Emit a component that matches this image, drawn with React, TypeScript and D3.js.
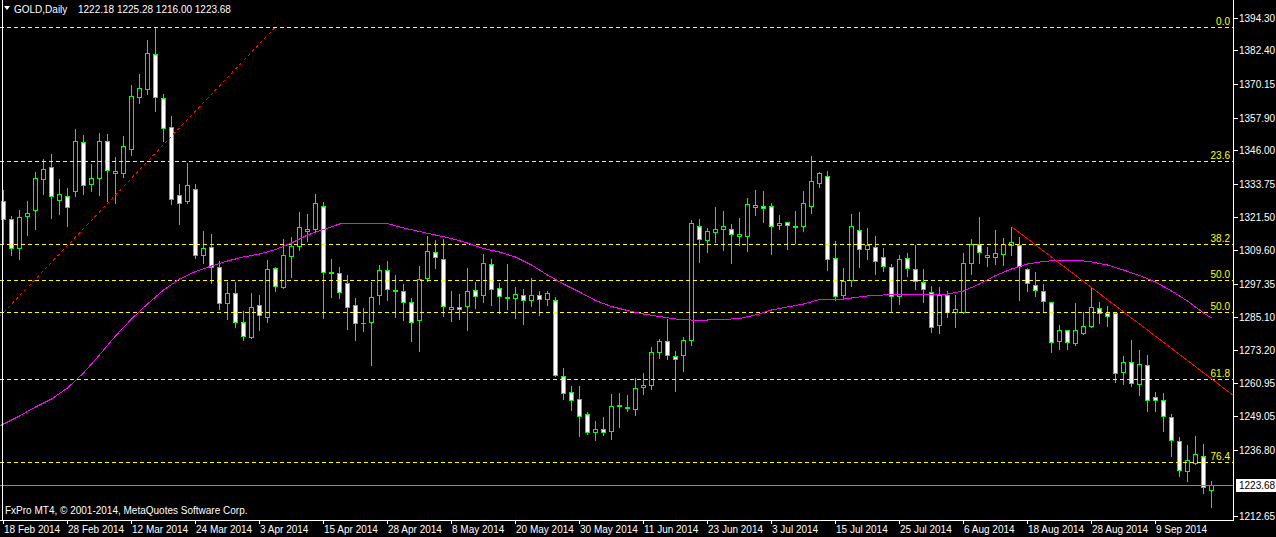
import { useEffect, useRef } from 'react';
import * as d3 from 'd3';

const W = 1276;
const H = 537;
const plotRight = 1233;
const plotBottom = 520;

// daily OHLC, 18 Feb 2014 .. 18 Sep 2014
const candles: [number, number, number, number][] = [
  [1327.46, 1331.47, 1312.03, 1320.78], [1320.78, 1321.98, 1307.75, 1310.2], [1310.2, 1324.17, 1306.4, 1321.51],
  [1321.88, 1327.46, 1315.05, 1322.97], [1324.06, 1338.15, 1317.35, 1335.74], [1335.38, 1342.79, 1330.12, 1339.03],
  [1339.76, 1344.61, 1321.36, 1329.17], [1327.93, 1335.38, 1322.82, 1329.9], [1329.17, 1332.09, 1318.45, 1325.16],
  [1330.99, 1353.73, 1329.29, 1349.24], [1348.88, 1351.54, 1330.12, 1333.19], [1333.55, 1340.95, 1331.21, 1335.74],
  [1335.74, 1352.27, 1329.76, 1349.24], [1349.24, 1351.9, 1327.46, 1338.95], [1337.78, 1343.51, 1326.91, 1338.29],
  [1337.78, 1351.17, 1336.32, 1347.42], [1346.54, 1369.78, 1344.35, 1365.66], [1365.51, 1373.79, 1363.32, 1368.58],
  [1368.43, 1386.2, 1366.61, 1381.35], [1380.98, 1390.83, 1360.4, 1365.51], [1364.93, 1366.5, 1349.46, 1354.2],
  [1354.35, 1358.47, 1326.47, 1328.3], [1329.54, 1333.66, 1319.18, 1326.62], [1327.57, 1341.21, 1326.84, 1333.19],
  [1331.73, 1333.66, 1306.77, 1307.65], [1307.65, 1316.52, 1304.73, 1310.2], [1310.57, 1315.42, 1297.65, 1303.49],
  [1303.27, 1305.68, 1288.17, 1290.36], [1290.14, 1297.8, 1284.52, 1293.78], [1293.78, 1297.8, 1281.6, 1283.2],
  [1283.2, 1287.22, 1276.75, 1278.1], [1277.73, 1293.78, 1277.47, 1288.67], [1289.4, 1293.05, 1280.5, 1285.75],
  [1285.25, 1305.93, 1283.42, 1302.54], [1302.9, 1303.27, 1294.62, 1296.34], [1295.97, 1313.49, 1295.72, 1307.65],
  [1307.28, 1314.22, 1299.62, 1311.04], [1310.93, 1323.45, 1309.58, 1317.86], [1316.4, 1322.72, 1312.98, 1317.13],
  [1317.35, 1329.97, 1316.4, 1326.62], [1325.52, 1326.98, 1284.88, 1301.45], [1301.26, 1306.3, 1292.55, 1301.63],
  [1301.08, 1303.27, 1292.18, 1294.15], [1297.43, 1300.35, 1280.87, 1288.67], [1289.41, 1291.96, 1276.86, 1282.84],
  [1282.84, 1288.42, 1280.14, 1283.06], [1283.2, 1297.8, 1267.74, 1292.32], [1293.05, 1304.0, 1289.77, 1302.18],
  [1302.18, 1305.46, 1291.23, 1295.46], [1294.55, 1300.35, 1285.25, 1294.92], [1294.51, 1297.07, 1284.16, 1290.5],
  [1290.5, 1291.96, 1276.49, 1283.2], [1283.93, 1303.63, 1272.84, 1298.89], [1299.26, 1314.69, 1298.16, 1309.11],
  [1308.74, 1313.23, 1303.12, 1306.92], [1306.19, 1313.6, 1285.61, 1289.04], [1288.17, 1294.62, 1283.79, 1288.67],
  [1288.67, 1293.53, 1284.52, 1287.95], [1289.04, 1303.01, 1280.4, 1294.51], [1294.88, 1297.91, 1288.31, 1292.69],
  [1293.05, 1308.12, 1290.72, 1304.73], [1304.37, 1306.19, 1289.63, 1295.24], [1295.61, 1297.43, 1286.71, 1292.69],
  [1291.96, 1304.47, 1287.95, 1292.32], [1291.96, 1296.08, 1284.88, 1293.42], [1293.09, 1295.24, 1282.59, 1291.27],
  [1291.23, 1299.37, 1289.26, 1293.17], [1293.17, 1294.62, 1285.98, 1291.6], [1291.6, 1294.62, 1289.63, 1293.9],
  [1291.23, 1292.32, 1263.5, 1263.87], [1263.5, 1266.43, 1255.33, 1257.3], [1257.66, 1259.96, 1251.1, 1254.75],
  [1255.11, 1259.96, 1241.62, 1248.99], [1249.64, 1250.37, 1242.34, 1243.07], [1243.07, 1247.09, 1240.15, 1244.17],
  [1244.17, 1248.54, 1241.98, 1243.07], [1243.44, 1256.94, 1240.52, 1252.56], [1252.56, 1257.3, 1244.9, 1252.93],
  [1252.19, 1256.57, 1250.74, 1251.76], [1251.46, 1262.77, 1249.49, 1259.12], [1259.49, 1264.6, 1257.16, 1260.22],
  [1260.22, 1274.09, 1258.98, 1272.26], [1272.26, 1277.0, 1270.07, 1276.27], [1276.27, 1284.3, 1269.93, 1271.16],
  [1270.8, 1272.63, 1258.25, 1269.71], [1271.16, 1277.73, 1265.55, 1276.64], [1276.64, 1320.53, 1275.03, 1319.32],
  [1318.23, 1320.78, 1305.31, 1313.7], [1313.34, 1317.61, 1308.96, 1316.4], [1316.26, 1325.27, 1312.61, 1317.13],
  [1317.13, 1323.81, 1309.69, 1318.23], [1317.13, 1319.07, 1304.95, 1315.24], [1314.8, 1321.26, 1311.41, 1315.42],
  [1314.8, 1328.55, 1309.33, 1326.26], [1325.38, 1331.47, 1322.46, 1325.89], [1325.52, 1331.11, 1319.8, 1325.02],
  [1325.52, 1326.73, 1308.23, 1318.23], [1318.59, 1322.35, 1317.35, 1319.32], [1319.69, 1319.9, 1310.06, 1318.59],
  [1317.97, 1323.81, 1312.25, 1318.34], [1318.45, 1331.11, 1316.62, 1326.62], [1325.52, 1343.88, 1323.19, 1334.65],
  [1333.92, 1338.04, 1332.68, 1337.57], [1336.47, 1338.3, 1302.4, 1306.19], [1306.55, 1312.76, 1291.52, 1292.98],
  [1293.17, 1302.9, 1291.6, 1298.16], [1298.53, 1322.72, 1296.56, 1318.23], [1316.77, 1323.34, 1303.49, 1309.84],
  [1309.84, 1317.5, 1306.41, 1311.3], [1310.57, 1314.69, 1300.94, 1305.46], [1306.92, 1310.2, 1302.03, 1303.63],
  [1303.27, 1304.37, 1287.07, 1292.8], [1292.69, 1307.65, 1289.99, 1306.19], [1306.55, 1308.38, 1299.99, 1302.9],
  [1302.54, 1311.41, 1295.24, 1298.16], [1297.8, 1302.54, 1290.72, 1295.24], [1294.15, 1296.34, 1279.78, 1281.67],
  [1282.04, 1295.97, 1279.3, 1293.17], [1293.27, 1294.51, 1285.25, 1287.07], [1287.07, 1293.05, 1281.6, 1287.95],
  [1286.85, 1308.49, 1286.71, 1304.73], [1304.73, 1313.6, 1300.94, 1311.66], [1311.66, 1321.62, 1304.95, 1308.74],
  [1307.14, 1310.68, 1303.85, 1307.65], [1306.92, 1316.88, 1304.58, 1308.38], [1308.01, 1313.96, 1304.0, 1311.66],
  [1311.3, 1318.08, 1307.65, 1312.39], [1311.3, 1314.22, 1291.45, 1303.63], [1302.54, 1303.12, 1294.73, 1297.43],
  [1296.7, 1301.45, 1292.91, 1294.88], [1294.51, 1297.1, 1286.89, 1290.86], [1290.5, 1290.6, 1272.26, 1275.91],
  [1276.27, 1282.11, 1273.35, 1280.29], [1280.29, 1280.4, 1273.57, 1275.91], [1275.54, 1290.25, 1274.82, 1280.29],
  [1279.19, 1286.85, 1279.12, 1281.75], [1281.75, 1295.72, 1281.38, 1288.67], [1288.31, 1290.5, 1282.84, 1286.49],
  [1286.49, 1289.04, 1281.75, 1285.39], [1286.49, 1286.6, 1261.53, 1264.6], [1264.96, 1270.8, 1260.58, 1268.61],
  [1268.61, 1276.64, 1259.86, 1260.95], [1260.58, 1272.99, 1256.57, 1267.88], [1267.52, 1271.16, 1250.74, 1254.75],
  [1255.84, 1257.66, 1250.74, 1254.75], [1254.75, 1257.3, 1243.44, 1248.91], [1248.54, 1249.64, 1234.31, 1240.15],
  [1239.79, 1241.25, 1227.02, 1229.21], [1228.84, 1238.33, 1225.19, 1232.86], [1231.76, 1241.62, 1231.4, 1235.05],
  [1234.32, 1238.7, 1220.82, 1223.01], [1222.18, 1225.28, 1216.0, 1223.68],
];

// moving average (bar index, value)
const maBars = [-1, 0, 2, 4, 6, 8, 10, 12, 14, 16, 18, 20, 22, 24, 26, 28, 30, 32, 34, 36, 38, 40, 42, 44, 46, 48, 50,
  52, 54, 56, 58, 60, 62, 64, 66, 68, 70, 72, 74, 76, 78, 80, 82, 84, 86, 88, 90, 92, 94, 96, 98, 100, 102, 104, 106,
  108, 110, 112, 114, 116, 118, 120, 122, 124, 126, 128, 130, 132, 134, 136, 138, 140, 142, 144, 146, 148, 150, 151];
const maValues = [1244.6, 1246.1, 1249.02, 1252.31, 1255.22, 1259.24, 1264.71, 1271.3, 1278.21, 1284.41, 1289.88,
  1294.99, 1298.99, 1301.74, 1303.75, 1305.57, 1307.03, 1308.12, 1309.76, 1312.14, 1315.05, 1317.06, 1319.07, 1319.43,
  1319.43, 1319.25, 1317.61, 1316.33, 1315.05, 1313.78, 1312.14, 1310.13, 1308.85, 1307.03, 1304.11, 1300.46, 1297.18,
  1294.26, 1291.16, 1288.97, 1287.51, 1286.23, 1285.32, 1284.41, 1284.04, 1284.04, 1284.23, 1284.59, 1285.87, 1287.69,
  1288.79, 1289.88, 1291.52, 1291.34, 1292.07, 1292.8, 1293.17, 1293.17, 1293.53, 1293.53, 1293.53, 1294.62, 1297.18,
  1300.28, 1302.65, 1304.47, 1305.38, 1305.93, 1305.93, 1305.21, 1304.11, 1302.29, 1300.28, 1297.91, 1294.62, 1290.97,
  1286.6, 1284.78];

const fibLabels = ['0.0', '23.6', '38.2', '50.0', '50.0', '61.8', '76.4'];
const fibPrices = [1390.83, 1341.94, 1311.66, 1298.53, 1286.85, 1262.52, 1232.13];

const priceTicks = [1394.3, 1382.4, 1370.15, 1357.9, 1346.0, 1333.75, 1321.5, 1309.6, 1297.35, 1285.1, 1273.2,
  1260.95, 1249.05, 1236.8, 1212.65];

const dateLabels = ['18 Feb 2014', '28 Feb 2014', '12 Mar 2014', '24 Mar 2014', '3 Apr 2014', '15 Apr 2014',
  '28 Apr 2014', '8 May 2014', '20 May 2014', '30 May 2014', '11 Jun 2014', '23 Jun 2014', '3 Jul 2014',
  '15 Jul 2014', '25 Jul 2014', '6 Aug 2014', '18 Aug 2014', '28 Aug 2014', '9 Sep 2014'];

// trend lines: [bar, price] anchors
const fibLine: [number, number][] = [[-0.5, 1285.2], [33.9, 1390.6]];
const downTrend: [number, number][] = [[126, 1318.1], [136, 1295.9]];

const lastPrice = 1223.68;
const symbol = 'GOLD,Daily';
const font = "'Liberation Sans', Arial, sans-serif";

export default function App() {
  const svgRef = useRef<SVGSVGElement>(null);

  useEffect(() => {
    if (!svgRef.current) return;
    const svg = d3.select(svgRef.current);
    svg.selectAll('*').remove();

    const x = d3.scaleLinear().domain([0, 151]).range([3.5, 3.5 + 8 * 151]);
    const y = d3.scaleLinear().domain([1211.08, 1400.79]).range([plotBottom, 0]);
    const py = (p: number) => Math.round(y(p));

    svg.append('rect').attr('width', W).attr('height', H).attr('fill', '#000');

    svg.append('defs').append('clipPath').attr('id', 'plot')
      .append('rect').attr('x', 0).attr('y', 0).attr('width', plotRight).attr('height', plotBottom);

    const plot = svg.append('g').attr('clip-path', 'url(#plot)').attr('shape-rendering', 'crispEdges');

    // candles
    const cg = plot.append('g');
    candles.forEach(([o, h, l, c], i) => {
      const col = Math.floor(x(i));
      const yh = py(h), yl = py(l);
      cg.append('rect').attr('x', col).attr('y', yh).attr('width', 1)
        .attr('height', yl - yh + 1).attr('fill', '#00ff00');
      const top = Math.min(py(o), py(c));
      const bot = Math.max(py(o), py(c));
      cg.append('rect').attr('x', col - 2).attr('y', top).attr('width', 5)
        .attr('height', bot - top + 1).attr('fill', '#00ff00');
      if (bot - top > 1) {
        cg.append('rect').attr('x', col - 1).attr('y', top + 1).attr('width', 3)
          .attr('height', bot - top - 1).attr('fill', c < o ? '#ffffff' : '#000000');
      }
    });

    // fibonacci levels
    fibPrices.forEach((p, k) => {
      const yy = py(p) + 0.5;
      plot.append('line').attr('x1', 0).attr('x2', plotRight).attr('y1', yy).attr('y2', yy)
        .attr('stroke', '#ffff00').attr('stroke-dasharray', '4,3');
      svg.append('text').attr('x', 1230).attr('y', yy - 3).attr('text-anchor', 'end')
        .attr('fill', '#ffff00').attr('font-family', font).attr('font-size', 10).text(fibLabels[k]);
    });

    // last price line
    const ly = py(lastPrice) + 0.5;
    plot.append('line').attr('x1', 0).attr('x2', plotRight).attr('y1', ly).attr('y2', ly)
      .attr('stroke', '#778899');

    // moving average
    const ma = d3.line<number>().x((_, k) => x(maBars[k])).y(v => y(v));
    plot.append('path').attr('d', ma(maValues)).attr('fill', 'none')
      .attr('stroke', '#ff00ff').attr('stroke-width', 1);

    // fibo connecting line (dashed)
    plot.append('line')
      .attr('x1', x(fibLine[0][0])).attr('y1', y(fibLine[0][1]))
      .attr('x2', x(fibLine[1][0])).attr('y2', y(fibLine[1][1]))
      .attr('stroke', '#ff0000').attr('stroke-dasharray', '3,3');

    // down trend ray to right edge
    const [b1, p1] = downTrend[0];
    const [b2, p2] = downTrend[1];
    const bEnd = x.invert(plotRight);
    const pEnd = p1 + (p2 - p1) * (bEnd - b1) / (b2 - b1);
    plot.append('line').attr('x1', x(b1)).attr('y1', y(p1)).attr('x2', plotRight).attr('y2', y(pEnd))
      .attr('stroke', '#ff0000');

    // frame
    const frame = svg.append('g').attr('shape-rendering', 'crispEdges').attr('stroke', '#ffffff');
    frame.append('line').attr('x1', plotRight + 0.5).attr('x2', plotRight + 0.5).attr('y1', 0).attr('y2', plotBottom + 1);
    frame.append('line').attr('x1', 0).attr('x2', plotRight + 1).attr('y1', plotBottom + 0.5).attr('y2', plotBottom + 0.5);
    frame.append('line').attr('x1', 2.5).attr('x2', 2.5).attr('y1', 0).attr('y2', plotBottom);

    // price axis
    priceTicks.forEach(p => {
      const yy = py(p) + 0.5;
      frame.append('line').attr('x1', plotRight).attr('x2', plotRight + 5).attr('y1', yy).attr('y2', yy);
      svg.append('text').attr('x', 1239).attr('y', yy).attr('dy', '0.35em').attr('fill', '#fff')
        .attr('font-family', font).attr('font-size', 10).text(p.toFixed(2));
    });
    svg.append('rect').attr('x', 1236).attr('y', ly - 6.5).attr('width', 40).attr('height', 13).attr('fill', '#fff');
    svg.append('text').attr('x', 1239).attr('y', ly).attr('dy', '0.35em').attr('fill', '#000')
      .attr('font-family', font).attr('font-size', 10).text(lastPrice.toFixed(2));

    // time axis
    dateLabels.forEach((d, k) => {
      const col = Math.floor(x(k * 8));
      frame.append('line').attr('x1', col + 0.5).attr('x2', col + 0.5).attr('y1', plotBottom).attr('y2', plotBottom + 4);
      svg.append('text').attr('x', col + 1).attr('y', 533).attr('fill', '#fff')
        .attr('font-family', font).attr('font-size', 10).text(d);
    });

    // header and footer
    svg.append('path').attr('d', 'M4,6 L10,6 L7,10 Z').attr('fill', '#fff');
    const c0 = candles[candles.length - 1];
    svg.append('text').attr('x', 14).attr('y', 13).attr('fill', '#fff').attr('font-family', font)
      .attr('font-size', 10).text(symbol);
    svg.append('text').attr('x', 78).attr('y', 13).attr('fill', '#fff').attr('font-family', font)
      .attr('font-size', 10).text(`${c0[0].toFixed(2)} ${c0[1].toFixed(2)} ${c0[2].toFixed(2)} ${c0[3].toFixed(2)}`);
    svg.append('text').attr('x', 5).attr('y', 514).attr('fill', '#fff').attr('font-family', font)
      .attr('font-size', 10).text('FxPro MT4, © 2001-2014, MetaQuotes Software Corp.');
  }, []);

  return <svg ref={svgRef} width={W} height={H} style={{ position: 'fixed', left: 0, top: 0, display: 'block' }} />;
}
